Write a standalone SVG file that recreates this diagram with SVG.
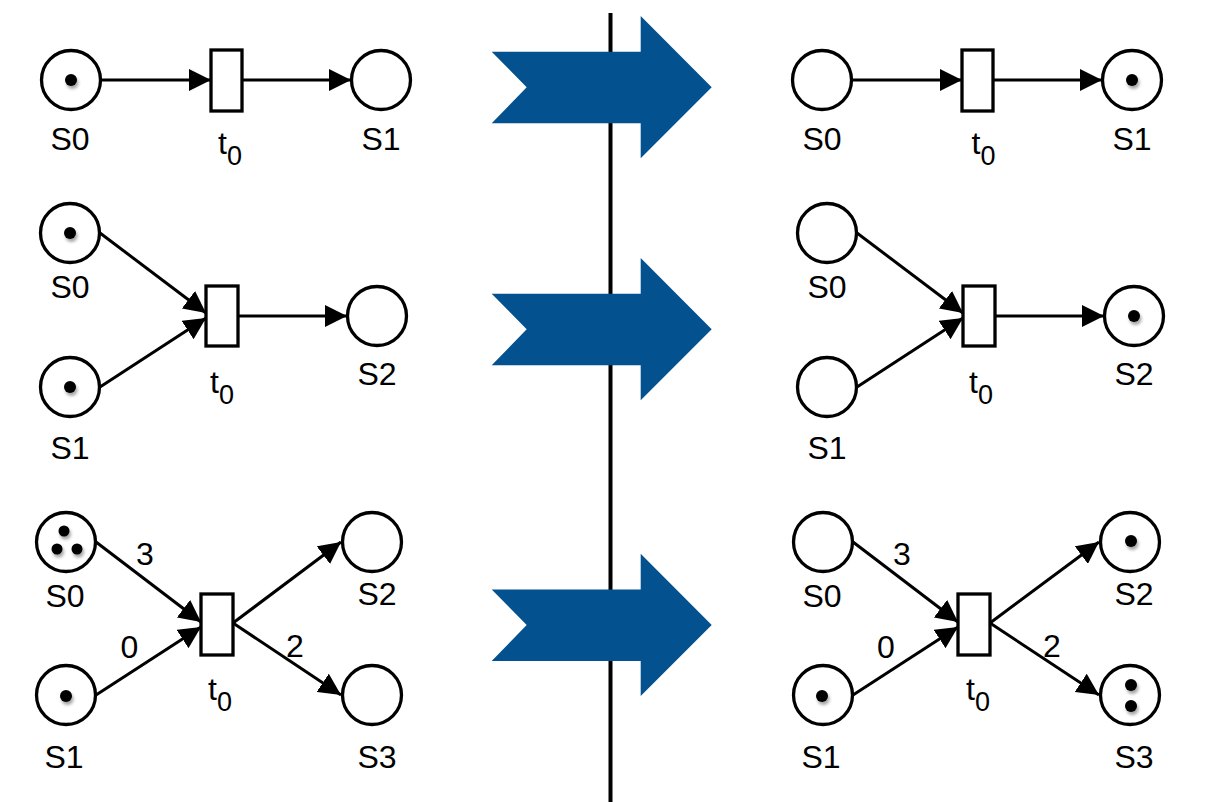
<svg xmlns="http://www.w3.org/2000/svg" xmlns:xlink="http://www.w3.org/1999/xlink" width="1207" height="802" viewBox="0 0 1207 802">
<style>
.place{fill:#fff;stroke:#000;stroke-width:3.3}
.trans{fill:#fff;stroke:#000;stroke-width:3.3}
.arc{stroke:#000;stroke-width:3;fill:none;marker-end:url(#ah)}
.tok{fill:#000;filter:url(#sh)}
.lbl{font-family:"Liberation Sans",Arial,sans-serif;font-size:32px;fill:#000;text-anchor:middle}
.tl{font-family:"Liberation Sans",Arial,sans-serif;font-size:32px;fill:#000}
.sub{font-size:27px}
.big{fill:#03518f}
</style>
<defs>
<marker id="ah" markerUnits="userSpaceOnUse" markerWidth="22" markerHeight="22" refX="22" refY="11" orient="auto" viewBox="0 0 22 22">
<path d="M0,0 L22,11 L0,22 z" fill="#000"/>
</marker>
<filter id="sh" x="-100%" y="-100%" width="300%" height="300%">
<feDropShadow dx="1.5" dy="3" stdDeviation="1.8" flood-color="#000" flood-opacity="0.35"/>
</filter>
<path id="bigarrow" d="M491.7,51.7 L640.7,51.7 L640.7,16 L711.7,87.3 L640.7,158.3 L640.7,123.3 L491.7,123.3 L526.7,87.3 z"/>
</defs>
<rect width="1207" height="802" fill="#fff"/>
<g id="divider"><line x1="610.5" y1="13" x2="610.5" y2="802" stroke="#000" stroke-width="4"/></g>
<g id="fire-arrows" class="big">
<use xlink:href="#bigarrow"/>
<use xlink:href="#bigarrow" transform="translate(0,242)"/>
<use xlink:href="#bigarrow" transform="translate(0,537.7)"/>
</g>
<g id="connectors">
<line class="arc" x1="100" y1="80" x2="211" y2="80"/>
<line class="arc" x1="242" y1="80" x2="351" y2="80"/>
<line class="arc" x1="852" y1="80" x2="962" y2="80"/>
<line class="arc" x1="993" y1="80" x2="1102" y2="80"/>
<line class="arc" x1="100" y1="233" x2="206" y2="313"/>
<line class="arc" x1="100" y1="387" x2="206" y2="318"/>
<line class="arc" x1="238" y1="316" x2="347" y2="316"/>
<line class="arc" x1="857" y1="233" x2="963" y2="313"/>
<line class="arc" x1="857" y1="387" x2="963" y2="318"/>
<line class="arc" x1="995" y1="316" x2="1104" y2="316"/>
<line class="arc" x1="96" y1="542" x2="201" y2="622"/>
<line class="arc" x1="96" y1="695" x2="201" y2="627"/>
<line class="arc" x1="233" y1="623" x2="341" y2="542"/>
<line class="arc" x1="233" y1="623" x2="341" y2="695"/>
<line class="arc" x1="853" y1="542" x2="958" y2="622"/>
<line class="arc" x1="853" y1="695" x2="958" y2="627"/>
<line class="arc" x1="990" y1="623" x2="1099" y2="542"/>
<line class="arc" x1="990" y1="623" x2="1099" y2="695"/>
<text class="lbl" x="145" y="565">3</text>
<text class="lbl" x="129.5" y="658">0</text>
<text class="lbl" x="295" y="657">2</text>
<text class="lbl" x="902" y="565">3</text>
<text class="lbl" x="886" y="658">0</text>
<text class="lbl" x="1052" y="657">2</text>
</g>
<!-- Row 1 left -->
<g id="r1l-S0"><circle class="place" cx="71" cy="80" r="29.5"/><circle class="tok" cx="71" cy="80" r="6"/><text class="lbl" x="70" y="150">S0</text></g>
<g id="r1l-t0"><rect class="trans" x="211" y="50" width="31" height="61"/><text class="tl" x="218" y="154">t<tspan class="sub" dy="11">0</tspan></text></g>
<g id="r1l-S1"><circle class="place" cx="381" cy="80" r="29.5"/><text class="lbl" x="381" y="150">S1</text></g>
<!-- Row 1 right -->
<g id="r1r-S0"><circle class="place" cx="822" cy="80" r="29.5"/><text class="lbl" x="822" y="150">S0</text></g>
<g id="r1r-t0"><rect class="trans" x="962" y="50" width="31" height="61"/><text class="tl" x="971.5" y="154">t<tspan class="sub" dy="11">0</tspan></text></g>
<g id="r1r-S1"><circle class="place" cx="1132" cy="80" r="29.5"/><circle class="tok" cx="1132" cy="80" r="6"/><text class="lbl" x="1132" y="150">S1</text></g>
<!-- Row 2 left -->
<g id="r2l-S0"><circle class="place" cx="70" cy="233" r="29.5"/><circle class="tok" cx="70" cy="233" r="6"/><text class="lbl" x="70" y="298">S0</text></g>
<g id="r2l-S1"><circle class="place" cx="70" cy="387" r="29.5"/><circle class="tok" cx="70" cy="387" r="6"/><text class="lbl" x="70" y="459">S1</text></g>
<g id="r2l-t0"><rect class="trans" x="206" y="286" width="32" height="60"/><text class="tl" x="210" y="393">t<tspan class="sub" dy="11">0</tspan></text></g>
<g id="r2l-S2"><circle class="place" cx="377" cy="316" r="29.5"/><text class="lbl" x="377" y="385">S2</text></g>
<!-- Row 2 right -->
<g id="r2r-S0"><circle class="place" cx="827" cy="233" r="29.5"/><text class="lbl" x="827" y="298">S0</text></g>
<g id="r2r-S1"><circle class="place" cx="827" cy="387" r="29.5"/><text class="lbl" x="827" y="459">S1</text></g>
<g id="r2r-t0"><rect class="trans" x="963" y="286" width="32" height="60"/><text class="tl" x="969" y="393">t<tspan class="sub" dy="11">0</tspan></text></g>
<g id="r2r-S2"><circle class="place" cx="1134" cy="316" r="29.5"/><circle class="tok" cx="1134" cy="316" r="6"/><text class="lbl" x="1134" y="385">S2</text></g>
<!-- Row 3 left -->
<g id="r3l-S0"><circle class="place" cx="66" cy="542" r="29.5"/><circle class="tok" cx="64" cy="531" r="5.5"/><circle class="tok" cx="57" cy="549" r="5.5"/><circle class="tok" cx="77" cy="549" r="5.5"/><text class="lbl" x="65" y="607">S0</text></g>
<g id="r3l-S1"><circle class="place" cx="66" cy="695" r="29.5"/><circle class="tok" cx="66" cy="696" r="6"/><text class="lbl" x="64" y="768">S1</text></g>
<g id="r3l-t0"><rect class="trans" x="201" y="594" width="32" height="61"/><text class="tl" x="208" y="700">t<tspan class="sub" dy="11">0</tspan></text></g>
<g id="r3l-S2"><circle class="place" cx="372" cy="542" r="29.5"/><text class="lbl" x="377" y="605">S2</text></g>
<g id="r3l-S3"><circle class="place" cx="372" cy="695" r="29.5"/><text class="lbl" x="377" y="768">S3</text></g>
<!-- Row 3 right -->
<g id="r3r-S0"><circle class="place" cx="823" cy="542" r="29.5"/><text class="lbl" x="822" y="607">S0</text></g>
<g id="r3r-S1"><circle class="place" cx="823" cy="695" r="29.5"/><circle class="tok" cx="822" cy="696" r="6"/><text class="lbl" x="821" y="768">S1</text></g>
<g id="r3r-t0"><rect class="trans" x="958" y="594" width="32" height="61"/><text class="tl" x="966" y="700">t<tspan class="sub" dy="11">0</tspan></text></g>
<g id="r3r-S2"><circle class="place" cx="1130" cy="542" r="29.5"/><circle class="tok" cx="1131" cy="541" r="6"/><text class="lbl" x="1134" y="605">S2</text></g>
<g id="r3r-S3"><circle class="place" cx="1130" cy="695" r="29.5"/><circle class="tok" cx="1131" cy="685" r="6"/><circle class="tok" cx="1131" cy="706" r="6"/><text class="lbl" x="1134" y="768">S3</text></g>
</svg>
